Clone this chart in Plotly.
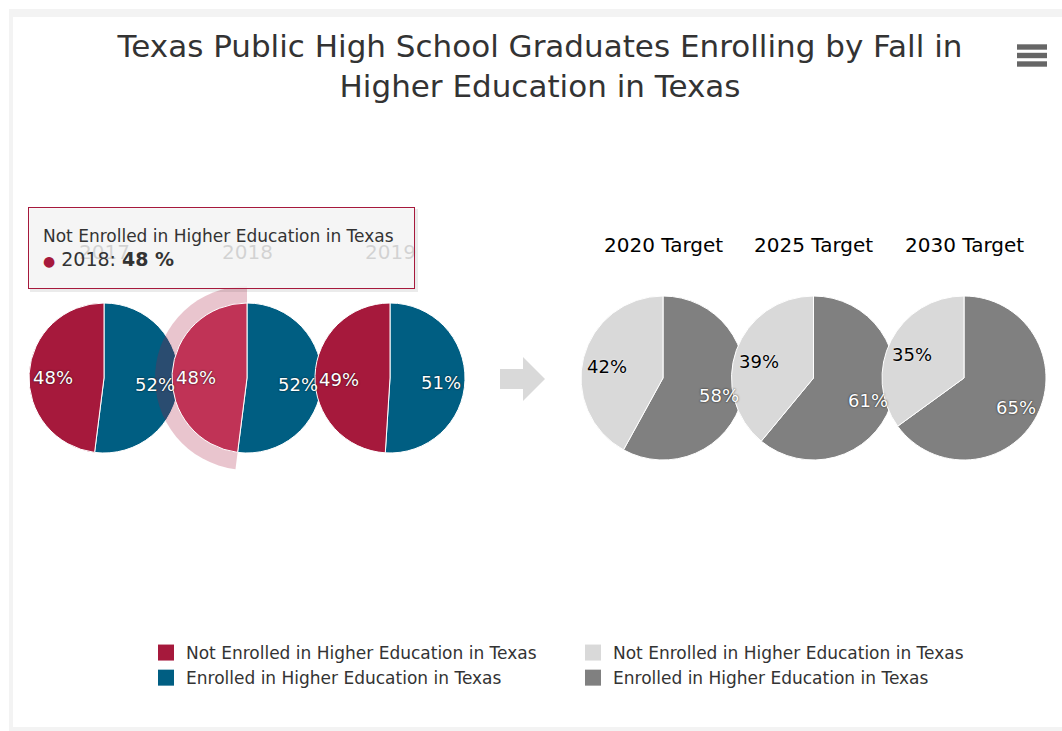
import math
import plotly.graph_objects as go

# ---- data -------------------------------------------------------------
years = ["2017", "2018", "2019"]
not_enrolled = [48, 48, 49]
enrolled = [52, 52, 51]

targets = ["2020 Target", "2025 Target", "2030 Target"]
target_not_enrolled = [42, 39, 35]
target_enrolled = [58, 61, 65]

slice_names = ["Not Enrolled in Higher Education in Texas",
               "Enrolled in Higher Education in Texas"]

# ---- styling ------------------------------------------------------------
W, H = 1062, 731
FONT = "DejaVu Sans"
RED, RED_HOVER, BLUE = "#a6193c", "#c03356", "#005e82"
LIGHT, DARK = "#d9d9d9", "#808080"

actual_centers = [104, 247, 390]
actual_r = 75
target_centers = [663, 813.5, 964]
target_r = 82
cy = 378
hovered = 1          # index of the highlighted year


def px(x):
    return x / W


def py(y):
    return 1 - y / H


def domain(cx, r):
    return dict(x=[px(cx - r), px(cx + r)], y=[py(cy + r), py(cy - r)])


fig = go.Figure()
annotations = []


def add_pie(cx, r, not_val, en_val, not_color, en_color, border=1):
    # "Enrolled" runs clockwise from 12 o'clock, "Not Enrolled" fills the rest
    fig.add_trace(go.Pie(
        labels=[slice_names[1], slice_names[0]], values=[en_val, not_val], sort=False,
        direction="clockwise", rotation=0,
        marker=dict(colors=[en_color, not_color], line=dict(color="#ffffff", width=border)),
        textinfo="none", hoverinfo="skip", showlegend=False,
        domain=domain(cx, r)))


def add_labels(cx, r, not_val, en_val, not_font, en_font):
    # value label on each slice's bisector, inside the slice
    total = not_val + en_val
    mids = [(-not_val / 2) / total * 2 * math.pi,       # counter-clockwise from top
            (en_val / 2) / total * 2 * math.pi]         # clockwise from top
    for v, mid, fc in zip([not_val, en_val], mids, [not_font, en_font]):
        d = r - 24
        x = cx + d * math.sin(mid)
        y = cy - d * math.cos(mid) + 3
        shadow = "0px 0px 2px rgba(0,0,0,0.85)" if fc == "#ffffff" else "0px 0px 2px #ffffff"
        annotations.append(dict(
            x=px(x), y=py(y), xref="paper", yref="paper", showarrow=False,
            text=f"{v}%", xanchor="center", yanchor="middle",
            font=dict(family=FONT, size=18, color=fc, shadow=shadow)))


def add_title(cx, r, text):
    annotations.append(dict(
        x=px(cx), y=py(cy - r - 51), xref="paper", yref="paper", showarrow=False,
        text=text, xanchor="center", yanchor="middle",
        font=dict(family=FONT, size=20, color="#000000")))


# actual years, with the hovered slice's halo behind its pie
for i, (cx, ne, en) in enumerate(zip(actual_centers, not_enrolled, enrolled)):
    if i == hovered:
        add_pie(cx, actual_r + 17, ne, en, "rgba(166,25,60,0.25)", "rgba(0,0,0,0)", border=0)
        add_pie(cx, actual_r, ne, en, RED_HOVER, BLUE)
    else:
        add_pie(cx, actual_r, ne, en, RED, BLUE)
    add_title(cx, actual_r, years[i])
for cx, ne, en in zip(actual_centers, not_enrolled, enrolled):
    add_labels(cx, actual_r, ne, en, "#ffffff", "#ffffff")

# targets
for i, (cx, ne, en) in enumerate(zip(target_centers, target_not_enrolled, target_enrolled)):
    add_pie(cx, target_r, ne, en, LIGHT, DARK)
    add_title(cx, target_r, targets[i])
for cx, ne, en in zip(target_centers, target_not_enrolled, target_enrolled):
    add_labels(cx, target_r, ne, en, "#000000", "#ffffff")

# legend entries (two colour schemes share the same names)
for name, color in [(slice_names[0], RED), (slice_names[0], LIGHT),
                    (slice_names[1], BLUE), (slice_names[1], DARK)]:
    fig.add_trace(go.Scatter(
        x=[None], y=[None], mode="markers", name=name,
        marker=dict(symbol="square", size=18, color=color),
        hoverinfo="skip"))

# tooltip for the hovered slice
annotations.append(dict(
    x=px(28), y=py(207), xref="paper", yref="paper", showarrow=False,
    xanchor="left", yanchor="top", align="left", valign="middle",
    width=357, height=52, borderpad=14, borderwidth=1,
    bordercolor=RED, bgcolor="rgba(247,247,247,0.85)",
    text=(f"<span style='font-size:17px'>{slice_names[0]}</span><br>"
          f"<span style='color:{RED};font-size:14px'>●</span> "
          f"{years[hovered]}: <b>{not_enrolled[hovered]} %</b>"),
    font=dict(family=FONT, size=19, color="#333333")))

shapes = [
    # page frame
    dict(type="rect", xref="paper", yref="paper", layer="below",
         x0=px(9), x1=px(W + 5), y0=py(H + 5), y1=py(9),
         fillcolor="#f3f3f3", line=dict(width=0)),
    dict(type="rect", xref="paper", yref="paper", layer="below",
         x0=px(13), x1=px(W + 5), y0=py(727), y1=py(17),
         fillcolor="#ffffff", line=dict(width=0)),
    # tooltip shadow
    dict(type="rect", xref="paper", yref="paper", layer="above",
         x0=px(30), x1=px(418), y0=py(292), y1=py(209),
         fillcolor="rgba(0,0,0,0.08)", line=dict(width=0)),
    # arrow from actual years to targets
    dict(type="path", xref="paper", yref="paper", layer="below",
         path=(f"M {px(500)} {py(369)} L {px(523)} {py(369)} L {px(523)} {py(357)} "
               f"L {px(545)} {py(379)} L {px(523)} {py(401)} L {px(523)} {py(389)} "
               f"L {px(500)} {py(389)} Z"),
         fillcolor=LIGHT, line=dict(width=0)),
]
# context menu button
for yb in [47, 55.5, 64]:
    shapes.append(dict(type="rect", xref="paper", yref="paper", layer="above",
                       x0=px(1017), x1=px(1047), y0=py(yb + 2.7), y1=py(yb - 2.7),
                       fillcolor="#666666", line=dict(width=0)))

fig.update_layout(
    width=W, height=H, autosize=False,
    margin=dict(l=0, r=0, t=0, b=0),
    paper_bgcolor="#ffffff", plot_bgcolor="rgba(0,0,0,0)",
    title=dict(text="Texas Public High School Graduates Enrolling by Fall in<br>Higher Education in Texas",
               x=px(540), xanchor="center", xref="paper",
               y=py(57), yanchor="top", yref="paper",
               font=dict(family=FONT, size=31, color="#333333")),
    xaxis=dict(visible=False), yaxis=dict(visible=False),
    legend=dict(orientation="h", x=px(146), xanchor="left", y=py(635), yanchor="top",
                entrywidth=382, entrywidthmode="pixels", traceorder="normal",
                font=dict(family=FONT, size=17, color="#333333"),
                bgcolor="rgba(0,0,0,0)", itemclick=False, itemdoubleclick=False),
    annotations=annotations, shapes=shapes,
    hovermode=False,
)

fig.write_html("out.html", config={"displayModeBar": False})
